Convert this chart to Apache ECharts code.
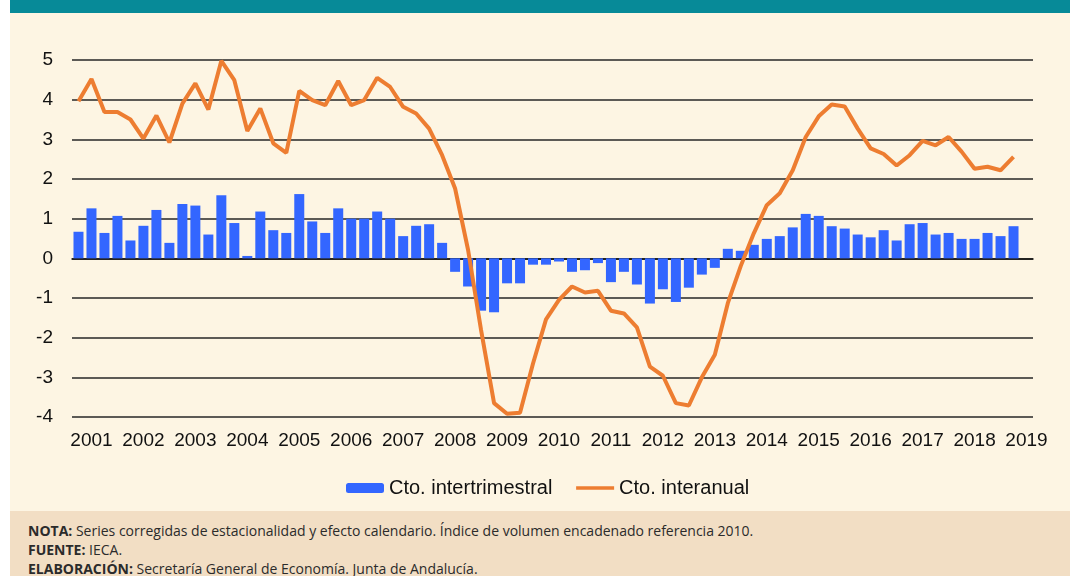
<!DOCTYPE html>
<html>
<head>
<meta charset="utf-8">
<script src="https://cdn.jsdelivr.net/npm/echarts@6/dist/echarts.min.js"></script>
<style>
  body { margin: 0; background: #fff; }
  #wrap { position: relative; width: 1070px; height: 576px; overflow: hidden; }
  .bg { position: absolute; left: 10px; top: 0; width: 1060px; height: 576px; background: #fdf5e3; }
  .header { position: absolute; left: 10px; top: 0; width: 1060px; height: 13px; background: #078a98; }
  .footer {
    position: absolute; left: 10px; top: 511px; width: 1060px; height: 65px;
    background: #f2dec4; box-sizing: border-box; padding: 10px 0 0 18px;
    font-family: "Open Sans", "Noto Sans", sans-serif; font-size: 14px; line-height: 19px; color: #2b2b2b;
  }
  .footer b { font-weight: 700; }
  #chart { position: absolute; left: 0; top: 0; width: 1070px; height: 576px; }
</style>
</head>
<body>
<div id="wrap">
  <div class="bg"></div>
  <div class="header"></div>
  <div id="chart"></div>
  <div class="footer">
    <div><b>NOTA:</b> Series corregidas de estacionalidad y efecto calendario. Índice de volumen encadenado referencia 2010.</div>
    <div><b>FUENTE:</b> IECA.</div>
    <div><b>ELABORACIÓN:</b> Secretaría General de Economía. Junta de Andalucía.</div>
  </div>
</div>
<script>
// etiquetas de año (una por año, en el T1)
const years = ['2001', '2002', '2003', '2004', '2005', '2006', '2007', '2008', '2009', '2010',
  '2011', '2012', '2013', '2014', '2015', '2016', '2017', '2018', '2019'];
const quarters = ['T1', 'T2', 'T3', 'T4'];

// trimestres: 2000 T4 ... 2019 T1
const categories = ['2000 T4'];
years.slice(0, -1).forEach(y => quarters.forEach(q => categories.push(y + ' ' + q)));
categories.push('2019 T1');

// crecimiento intertrimestral (%)
const intertrimestral = [
  0.67, 1.26, 0.64, 1.07, 0.45, 0.82, 1.22, 0.39, 1.37, 1.33,
  0.60, 1.59, 0.89, 0.06, 1.18, 0.71, 0.64, 1.62, 0.93, 0.64,
  1.26, 1.00, 1.00, 1.18, 1.00, 0.56, 0.82, 0.86, 0.39, -0.34,
  -0.71, -1.32, -1.36, -0.63, -0.63, -0.16, -0.16, -0.08, -0.34, -0.30,
  -0.12, -0.60, -0.34, -0.66, -1.14, -0.78, -1.10, -0.74, -0.41, -0.24,
  0.24, 0.19, 0.34, 0.49, 0.56, 0.78, 1.12, 1.07, 0.81, 0.75,
  0.60, 0.53, 0.71, 0.45, 0.86, 0.89, 0.60, 0.64, 0.49, 0.49,
  0.64, 0.56, 0.81
];

// crecimiento interanual (%)
const interanual = [
  3.96, 4.52, 3.69, 3.69, 3.50, 3.02, 3.60, 2.92, 3.90, 4.41,
  3.75, 4.98, 4.49, 3.21, 3.78, 2.90, 2.66, 4.22, 3.99, 3.86,
  4.47, 3.86, 3.99, 4.55, 4.32, 3.82, 3.65, 3.27, 2.60, 1.76,
  0.21, -1.81, -3.65, -3.92, -3.89, -2.65, -1.54, -1.05, -0.71, -0.86,
  -0.82, -1.32, -1.39, -1.74, -2.73, -2.96, -3.65, -3.71, -3.00, -2.43,
  -1.13, -0.19, 0.63, 1.34, 1.64, 2.22, 3.06, 3.58, 3.88, 3.83,
  3.27, 2.77, 2.63, 2.34, 2.60, 2.96, 2.85, 3.06, 2.69, 2.26,
  2.31, 2.22, 2.56
];

const font = '"Liberation Sans", Arial, sans-serif';

const chart = echarts.init(document.getElementById('chart'));
chart.setOption({
  animation: false,
  textStyle: { fontFamily: font },
  grid: { left: 72, right: 37, top: 60, bottom: 159 },
  legend: {
    left: 341,
    top: 473,
    itemWidth: 38,
    itemHeight: 10,
    itemGap: 22,
    textStyle: { fontSize: 20, color: '#111', fontFamily: font },
    data: [
      'Cto. intertrimestral',
      // solo la línea, sin el símbolo
      { name: 'Cto. interanual', itemStyle: { opacity: 0 }, lineStyle: { width: 3.5 } }
    ]
  },
  xAxis: [
    {
      // etiquetas de año abajo
      type: 'category',
      data: categories,
      position: 'bottom',
      axisLine: { show: false, onZero: false },
      axisTick: { show: false },
      axisLabel: {
        interval: (idx) => idx % 4 === 1,
        formatter: (v) => v.slice(0, 4),
        fontSize: 19,
        color: '#111',
        margin: 14
      },
      splitLine: { show: false }
    },
    {
      // eje en el cero con marcas anuales
      type: 'category',
      data: categories,
      position: 'bottom',
      axisLine: { onZero: true, lineStyle: { color: '#111', width: 1.5 } },
      axisTick: {
        interval: (idx) => idx % 4 === 0,
        length: 5,
        lineStyle: { color: '#111', width: 1.5 }
      },
      axisLabel: { show: false },
      splitLine: { show: false }
    }
  ],
  yAxis: {
    type: 'value',
    min: -4,
    max: 5,
    interval: 1,
    axisLine: { show: false },
    axisTick: { show: false },
    axisLabel: { fontSize: 19, color: '#111', margin: 19 },
    splitLine: { lineStyle: { color: '#262626', width: 1.6 } }
  },
  series: [
    {
      name: 'Cto. intertrimestral',
      type: 'bar',
      data: intertrimestral,
      barWidth: 10,
      itemStyle: { color: '#3366ff' }
    },
    {
      name: 'Cto. interanual',
      type: 'line',
      data: interanual,
      symbol: 'none',
      lineStyle: { color: '#ed7d31', width: 4 },
      itemStyle: { color: '#ed7d31' }
    }
  ]
});
</script>
</body>
</html>
